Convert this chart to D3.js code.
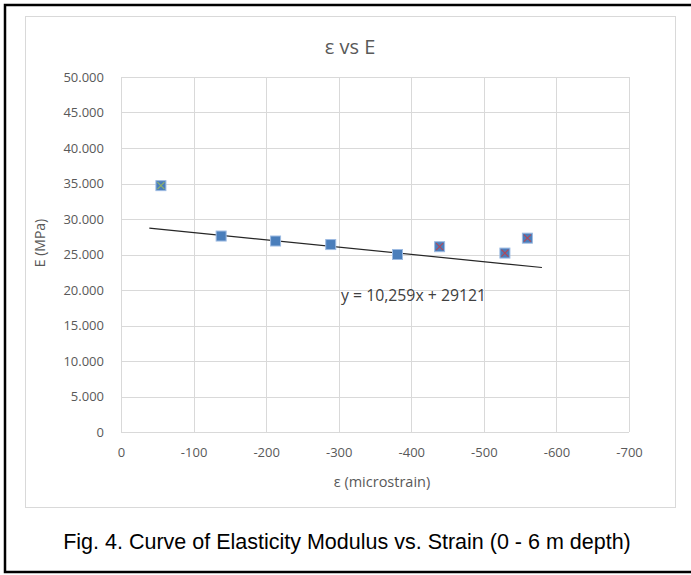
<!DOCTYPE html>
<html>
<head>
<meta charset="utf-8">
<script src="https://cdn.jsdelivr.net/npm/d3@7"></script>
<style>
  body { margin: 0; background: #fff; }
  svg { display: block; }
</style>
</head>
<body>
<script>
// strain (microstrain) and modulus (MPa)
const strain = [-55, -138, -213, -289, -381, -439, -529, -560];
const modulus = [34700, 27600, 26900, 26400, 25000, 26100, 25200, 27300];
// cross overlay colour per point (overlapping series in the original)
const crossColor = ["#8fb06a", null, null, null, null, "#b0485a", "#b0485a", "#b0485a"];
const xTicks = [0, -100, -200, -300, -400, -500, -600, -700];
const yTicks = [0, 5000, 10000, 15000, 20000, 25000, 30000, 35000, 40000, 45000, 50000];
const trendSlope = 10.259;
const trendIntercept = 29121;
const trendRange = [-39, -580];

const width = 691, height = 575;
const font = "'Open Sans', sans-serif";
const svg = d3.select("body").append("svg")
    .attr("width", width)
    .attr("height", height);

// outer frame
svg.append("rect")
    .attr("x", 5).attr("y", 5)
    .attr("width", 700).attr("height", 567)
    .style("fill", "none")
    .style("stroke", "#000")
    .style("stroke-width", 2.5);

// chart box
svg.append("rect")
    .attr("x", 25.5).attr("y", 16.5)
    .attr("width", 650).attr("height", 491)
    .style("fill", "#fff")
    .style("stroke", "#d9d9d9")
    .style("stroke-width", 1);

const x = d3.scaleLinear().domain([0, -700]).range([121, 629]);
const y = d3.scaleLinear().domain([0, 50000]).range([432, 77]);

const fmt = d => d3.format(",")(d).replace(/,/g, ".");

// gridlines
svg.append("g")
    .selectAll("line")
    .data(yTicks)
    .enter().append("line")
    .attr("x1", x(0)).attr("x2", x(-700))
    .attr("y1", d => Math.round(y(d)) + 0.5)
    .attr("y2", d => Math.round(y(d)) + 0.5)
    .style("stroke", "#d9d9d9");
svg.append("g")
    .selectAll("line")
    .data(xTicks)
    .enter().append("line")
    .attr("x1", d => Math.round(x(d)) + 0.5)
    .attr("x2", d => Math.round(x(d)) + 0.5)
    .attr("y1", y(0)).attr("y2", y(50000))
    .style("stroke", "#d9d9d9");

// axes (labels only, Excel style)
const yAxis = svg.append("g")
    .attr("transform", "translate(" + (x(0) - 14) + ",0)")
    .call(d3.axisLeft(y).tickValues(yTicks).tickFormat(fmt).tickSize(0));
yAxis.select(".domain").remove();
yAxis.selectAll("text")
    .style("font-family", font)
    .style("font-size", "13px")
    .style("fill", "#595959");

const xAxis = svg.append("g")
    .attr("transform", "translate(0," + (y(0) + 13) + ")")
    .call(d3.axisBottom(x).tickValues(xTicks).tickFormat(d => d).tickSize(0));
xAxis.select(".domain").remove();
xAxis.selectAll("text")
    .style("font-family", font)
    .style("font-size", "13px")
    .style("fill", "#595959");

// trendline
svg.append("line")
    .attr("x1", x(trendRange[0]))
    .attr("y1", y(trendSlope * trendRange[0] + trendIntercept))
    .attr("x2", x(trendRange[1]))
    .attr("y2", y(trendSlope * trendRange[1] + trendIntercept))
    .style("stroke", "#262626")
    .style("stroke-width", 1.2);

// markers
const pts = strain.map((s, i) => ({ s: s, e: modulus[i], c: crossColor[i] }));
svg.append("g")
    .selectAll("rect")
    .data(pts)
    .enter().append("rect")
    .attr("x", d => x(d.s) - 5)
    .attr("y", d => y(d.e) - 5)
    .attr("width", 10).attr("height", 10)
    .style("fill", "#4a7ebb")
    .style("stroke", "#9dbbe2")
    .style("stroke-width", 1);

svg.append("g")
    .selectAll("path")
    .data(pts.filter(d => d.c))
    .enter().append("path")
    .attr("d", d => {
        const cx = x(d.s), cy = y(d.e);
        return "M" + (cx - 3.5) + "," + (cy - 3.5) + "L" + (cx + 3.5) + "," + (cy + 3.5) +
               "M" + (cx + 3.5) + "," + (cy - 3.5) + "L" + (cx - 3.5) + "," + (cy + 3.5);
    })
    .style("stroke", d => d.c)
    .style("stroke-width", 1.2)
    .style("fill", "none");

// trendline equation
svg.append("text")
    .attr("x", 341).attr("y", 301)
    .style("font-family", font)
    .style("font-size", "15.8px")
    .style("fill", "#404040")
    .text("y = 10,259x + 29121");

// title
svg.append("text")
    .attr("x", 350).attr("y", 54)
    .attr("text-anchor", "middle")
    .style("font-family", font)
    .style("font-size", "20px")
    .style("fill", "#595959")
    .text("ε vs E");

// axis titles
svg.append("text")
    .attr("transform", "translate(45,243) rotate(-90)")
    .attr("text-anchor", "middle")
    .style("font-family", font)
    .style("font-size", "14px")
    .style("fill", "#595959")
    .text("E (MPa)");
svg.append("text")
    .attr("x", 382).attr("y", 487)
    .attr("text-anchor", "middle")
    .style("font-family", font)
    .style("font-size", "14.5px")
    .style("fill", "#595959")
    .text("ε (microstrain)");

// caption
svg.append("text")
    .attr("x", 347).attr("y", 549)
    .attr("text-anchor", "middle")
    .style("font-family", "'Liberation Sans', Arial, sans-serif")
    .style("font-size", "21.5px")
    .style("fill", "#000")
    .text("Fig. 4. Curve of Elasticity Modulus vs. Strain (0 - 6 m depth)");
</script>
</body>
</html>
